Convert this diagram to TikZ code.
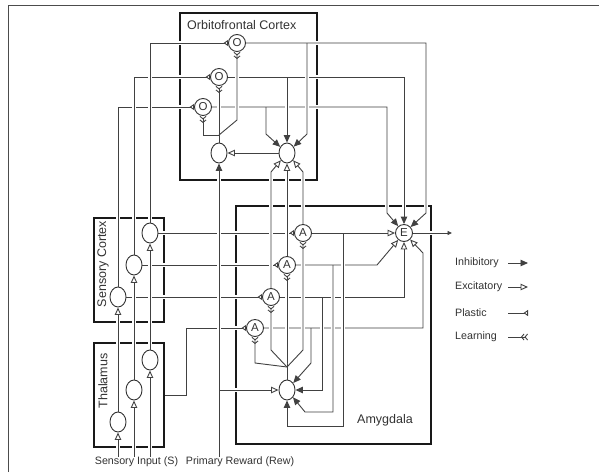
\documentclass[tikz,border=0pt]{standalone}
\usepackage{fontspec}
\setmainfont{Liberation Sans}
\usetikzlibrary{arrows.meta,shapes.geometric}
\definecolor{wirecol}{RGB}{65,65,65}
\definecolor{boxcol}{RGB}{25,25,25}
\definecolor{textcol}{RGB}{50,50,50}

\begin{document}
\begin{tikzpicture}[x=1pt,y=-1pt,
  region/.style={draw=boxcol,line width=1.9pt,inner sep=0pt},
  rlabel/.style={text=textcol,font=\fontsize{12.5}{14}\selectfont,inner sep=0pt},
  slabel/.style={text=textcol,font=\fontsize{10.7}{12}\selectfont,inner sep=0pt},
  neuron/.style={draw=black!80,line width=0.9pt,ellipse,minimum width=16pt,minimum height=20pt,inner sep=0pt},
  unit/.style={draw=black!80,line width=0.9pt,circle,minimum size=17pt,inner sep=0pt,text=textcol,font=\fontsize{11.5}{12}\selectfont},
  wire/.style={draw=wirecol,line width=0.9pt,preaction={draw=white,line width=3.6pt,-,shorten <=3pt,shorten >=3pt}},
  inh/.style={wire,-{Triangle[length=7.5pt,width=6.5pt]}},
  exc/.style={wire,-{Triangle[open,length=7.5pt,width=6.5pt]}},
  plast/.style={wire,-{Triangle[open,reversed,length=4.5pt,width=6pt]}},
  learn/.style={wire,-{Straight Barb[reversed,length=2.5pt,width=6pt]Straight Barb[reversed,length=2.5pt,width=6pt]}},
]
\useasboundingbox (0,0) rectangle (599,472);
\draw[draw=black!70,line width=1pt] (8,472) -- (8,5) -- (599,5);

\node[region,minimum width=137pt,minimum height=167pt] (ofc) at (248.5,96.5) {};
\node[region,minimum width=70pt,minimum height=104pt] (sctx) at (129,270) {};
\node[region,minimum width=70pt,minimum height=104pt] (thal) at (129,395) {};
\node[region,minimum width=195pt,minimum height=238pt] (amyg) at (333.5,325) {};

\node[rlabel,anchor=west] (tofc) at (187,25) {Orbitofrontal Cortex};
\node[rlabel,rotate=90] (tsctx) at (103,264) {Sensory Cortex};
\node[rlabel,rotate=90] (tthal) at (103,381) {Thalamus};
\node[rlabel] (tamyg) at (385,420) {Amygdala};
\node[slabel] (sin) at (136.5,462) {Sensory Input (S)};
\node[slabel] (rew) at (240,462) {Primary Reward (Rew)};

\node[neuron] (t1) at (150,360) {};
\node[neuron] (t2) at (134,390) {};
\node[neuron] (t3) at (118,422) {};
\node[neuron] (sc1) at (150,233) {};
\node[neuron] (sc2) at (134,265) {};
\node[neuron] (sc3) at (118,297) {};
\node[neuron] (n1) at (219,153) {};
\node[neuron] (n2) at (287,153) {};
\node[neuron] (n3) at (287,390) {};
\node[unit] (o1) at (237,43) {O};
\node[unit] (o2) at (219,77) {O};
\node[unit] (o3) at (203,107) {O};
\node[unit] (a1) at (303,233) {A};
\node[unit] (a2) at (287,265) {A};
\node[unit] (a3) at (271,297) {A};
\node[unit] (a4) at (255,328) {A};
\node[unit] (e) at (404,233) {E};

\draw[plast] (sc3) -- (a3);
\draw[plast] (sc2) -- (a2);
\draw[plast] (sc1) -- (a1);
\coordinate (tk) at (186,395);
\draw[plast] (thal.east) -- (tk) |- (a4);
\draw[exc] (n2) -- (n1);

\draw[exc] (sin.north -| t3) -- (t3);
\draw[exc] (sin.north -| t2) -- (t2);
\draw[exc] (sin.north -| t1) -- (t1);
\draw[exc] (t3) -- (sc3);
\draw[exc] (t2) -- (sc2);
\draw[exc] (t1) -- (sc1);

\draw[plast] (sc3) |- (o3);
\draw[plast] (sc2) |- (o2);
\draw[plast] (sc1) |- (o1);

\draw[inh] (rew.north -| n1) -- (n1);
\coordinate (rk) at (219,390);
\draw[exc] (rk) -- (n3);

\coordinate (k3) at (387,213);
\coordinate (k1) at (426,213);
\draw[inh] (o3) -| (k3) -- (e);
\draw[inh] (o2) -| (e);
\draw[inh] (o1) -| (k1) -- (e);
\coordinate (j3) at (266,107);
\coordinate (j3b) at (266,134);
\coordinate (j2) at (287,77);
\coordinate (j1) at (307,43);
\coordinate (j1b) at (307,134);
\draw[inh] (j3) -- (j3b) -- (n2);
\draw[inh] (j2) -- (n2);
\draw[inh] (j1) -- (j1b) -- (n2);

\coordinate (lo) at (219,135);
\coordinate (lo1) at (237,120);
\coordinate (lo3) at (203,135);
\draw[wire] (n1) -- (lo);
\draw[learn] (lo) -- (o2);
\draw[learn] (lo) -- (lo1) -- (o1);
\draw[learn] (lo) -- (lo3) -- (o3);

\coordinate (k2) at (377,265);
\coordinate (k4) at (423,253);
\draw[exc] (a4) -| (k4) -- (e);
\draw[exc] (a3) -| (e);
\draw[exc] (a2) -- (k2) -- (e);
\draw[exc] (a1) -- (e);
\coordinate (b4) at (311,328);
\coordinate (b4b) at (311,363);
\coordinate (b3) at (322,297);
\coordinate (b2) at (333,265);
\coordinate (b2b) at (305,412);
\coordinate (b1) at (343,233);
\coordinate (b1b) at (343,426);
\draw[inh] (b4) -- (b4b) -- (n3);
\draw[inh] (b3) |- (n3);
\draw[inh] (b2) |- (b2b) -- (n3);
\draw[inh] (b1) -- (b1b) -| (n3);

\coordinate (u3) at (271,172);
\coordinate (u1) at (303,172);
\draw[exc] (a3) -- (u3) -- (n2);
\draw[exc] (a2) -- (n2);
\draw[exc] (a1) -- (u1) -- (n2);

\coordinate (la) at (287,367);
\coordinate (la1) at (303,350);
\coordinate (la3) at (271,350);
\coordinate (la4) at (255,363);
\draw[wire] (n3) -- (la);
\draw[learn] (la) -- (a2);
\draw[learn] (la) -- (la1) -- (a1);
\draw[learn] (la) -- (la3) -- (a3);
\draw[learn] (la) -- (la4) -- (a4);

\coordinate (eo) at (452,233);
\draw[wire,-{Triangle[length=4.5pt,width=4pt]}] (e) -- (eo);

\node[slabel,anchor=west] (linh) at (455,263) {Inhibitory};
\node[slabel,anchor=west] (lexc) at (455,287) {Excitatory};
\node[slabel,anchor=west] (lpla) at (455,313) {Plastic};
\node[slabel,anchor=west] (llrn) at (455,337) {Learning};
\coordinate (kinh) at (508,263);
\coordinate (kexc) at (508,287);
\coordinate (kpla) at (508,313);
\coordinate (klrn) at (508,337);
\draw[inh] (kinh) -- ++(20,0);
\draw[exc] (kexc) -- ++(20,0);
\draw[plast] (kpla) -- ++(20,0);
\draw[learn] (klrn) -- ++(20,0);
\end{tikzpicture}
\end{document}
